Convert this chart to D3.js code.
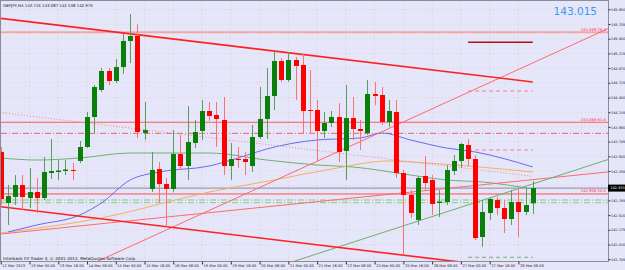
<!DOCTYPE html>
<meta charset="utf-8">
<style>
    body { margin: 0; background: #e6e6fa; }
    svg { display: block; font-family: "DejaVu Sans", sans-serif; }
</style>
<body>
<svg width="625" height="270"></svg>
<script src="https://d3js.org/d3.v7.min.js"></script>
<script>
// H4 bars, GBPJPY, index 0 = 12 Mar 2013 08:00
var opens  = [143.572,142.722,142.822,143.022,142.805,142.905,142.805,143.222,143.238,143.255,143.272,143.422,143.655,144.155,144.605,144.922,144.755,144.988,145.422,145.505,143.888,142.955,143.288,143.038,142.955,143.538,143.338,143.722,143.922,144.255,144.188,144.105,143.338,143.455,143.455,143.338,143.822,144.122,144.505,145.088,144.772,145.105,145.022,144.272,144.272,143.922,144.055,144.155,143.588,144.138,143.955,143.888,144.538,144.522,144.072,144.238,143.222,142.855,142.438,143.172,143.105,142.722,142.738,143.255,143.422,143.688,143.455,142.155,142.555,142.772,142.638,142.455,142.738,142.572,142.716];
var highs  = [143.655,143.022,143.188,143.188,143.305,143.138,143.488,143.788,143.438,143.438,143.388,143.755,144.238,144.688,144.972,144.972,145.122,145.538,145.872,145.705,144.405,143.572,143.405,143.138,143.938,143.855,144.338,144.105,144.438,144.405,144.405,144.488,143.722,143.655,143.572,144.022,144.655,144.972,145.238,145.138,145.238,145.155,145.205,144.938,144.438,144.238,144.255,144.388,144.688,144.488,144.105,144.772,144.738,144.655,144.438,144.438,143.272,142.938,143.172,143.505,143.188,142.938,143.355,143.522,143.722,143.788,143.522,142.772,142.805,142.822,142.772,142.938,142.972,142.972,143.087];
var lows   = [142.688,142.355,142.688,142.605,142.638,142.555,142.772,143.122,143.105,143.188,143.105,143.388,143.638,143.888,144.572,144.688,144.722,144.872,145.055,143.805,143.772,142.905,142.722,142.322,142.905,143.272,143.105,143.638,143.772,144.088,143.655,143.188,143.105,143.305,143.188,143.238,143.788,143.788,144.272,144.738,144.738,144.438,143.888,143.888,143.422,143.805,143.988,143.405,143.105,143.772,143.605,143.855,144.355,144.022,143.988,143.138,141.855,142.472,142.355,142.938,142.522,142.488,142.688,143.188,143.305,143.338,142.105,141.988,142.438,142.522,142.222,142.355,142.155,142.522,142.538];
var closes = [142.788,142.838,143.022,142.822,142.905,142.805,143.238,143.255,143.263,143.280,143.258,143.655,144.155,144.655,144.922,144.755,144.988,145.422,145.505,143.905,143.938,143.272,143.038,142.955,143.538,143.338,143.738,143.905,144.255,144.172,144.122,143.338,143.455,143.438,143.405,143.822,144.122,144.505,145.088,144.772,145.105,145.005,144.255,144.255,143.922,144.055,144.155,143.572,144.138,143.955,143.922,144.538,144.505,144.072,144.255,143.222,142.855,142.555,143.138,143.055,142.705,142.747,143.272,143.422,143.705,143.455,142.138,142.572,142.788,142.638,142.455,142.738,142.572,142.688,142.970];

var timeLabels = ["12 Mar 2013","13 Mar 00:00","13 Mar 16:00","14 Mar 08:00","15 Mar 00:00","15 Mar 16:00","18 Mar 08:00","19 Mar 00:00","19 Mar 16:00","20 Mar 08:00","21 Mar 00:00","21 Mar 16:00","22 Mar 08:00","25 Mar 00:00","25 Mar 16:00","26 Mar 08:00","27 Mar 00:00","27 Mar 16:00","28 Mar 08:00"];
var labelBars = [0,4,8,12,16,20,24,28,32,36,40,44,48,52,56,60,64,68,72];
var priceTicks = [145.950,145.705,145.460,145.215,144.970,144.725,144.480,144.235,143.990,143.745,143.500,143.255,143.010,142.765,142.520,142.275,142.030,141.785];

// moving averages: [bar, price]
var maBlue   = [[1,142.238],[5,142.355],[11,142.522],[14,142.722],[18,143.105],[22,143.238],[29,143.338],[33,143.472],[37,143.622],[44,143.772],[50,143.805],[53,143.888],[57,143.772],[62,143.638],[66,143.572],[74,143.322]];
var maOrange = [[0,142.222],[14,142.472],[29,142.905],[38,143.105],[46,143.288],[54,143.422],[57,143.405],[65,143.338],[74,143.238]];
var maGreen  = [[0,143.472],[5,143.438],[11,143.472],[18,143.555],[29,143.555],[37,143.438],[44,143.355],[49,143.322],[57,143.188],[62,143.105],[67,143.072],[74,142.955]];

// trend lines: [bar1, price1, bar2, price2]
var channelTop    = [-0.1, 145.800, 74.0, 144.738];
var channelBottom = [-0.1, 142.660, 74.0, 141.593];
var channelMid    = [-0.1, 144.230, 74.0, 143.166];
var redRay        = [13.35, 141.743, 84.5, 145.630];
var redRay2       = [0, 142.205, 84.5, 143.240];
var greenRay      = [40.2, 141.727, 84.5, 143.447];

// horizontal levels
var fibLevels = [145.567, 144.067, 142.872];
var fibNames  = ["145.569 76.4", "144.088 61.8", "142.956 50.0"];
var dashDotRed = 143.883;
var greenDashDot = [142.772, 142.727];
var bid = 142.970;
var shortLevels = [145.400, 144.588, 143.605, 141.817];
var shortFrom = 65, shortTo = 74;

var svg = d3.select("svg"),
    width = +svg.attr("width"),
    height = +svg.attr("height");

var plotL = 1, plotR = 608, plotT = 1, plotB = 261;

var x = d3.scaleLinear().domain([0, 74]).range([0.74, 532.8]);
var y = d3.scaleLinear().domain([141.785, 145.950]).range([259.2, 9.3]);

svg.append("rect").attr("width", width).attr("height", height).attr("fill", "#e6e6fa");

svg.append("defs").append("clipPath").attr("id", "plot")
    .append("rect").attr("x", plotL).attr("y", plotT)
    .attr("width", plotR - plotL).attr("height", plotB - plotT);

var grid = svg.append("g").attr("clip-path", "url(#plot)");
grid.selectAll(".vg").data(labelBars).enter().append("line")
    .attr("x1", function(d) { return x(d); }).attr("x2", function(d) { return x(d); })
    .attr("y1", plotT).attr("y2", plotB)
    .attr("stroke", "#e8b8a8").attr("stroke-dasharray", "1,3").attr("opacity", 0.6);
grid.selectAll(".hg").data(priceTicks).enter().append("line")
    .attr("x1", plotL).attr("x2", plotR)
    .attr("y1", function(d) { return y(d); }).attr("y2", function(d) { return y(d); })
    .attr("stroke", "#e8b8a8").attr("stroke-dasharray", "1,3").attr("opacity", 0.6);

var plot = svg.append("g").attr("clip-path", "url(#plot)");

function hline(v, color, w, dash, x1, x2) {
    plot.append("line")
        .attr("x1", x1 === undefined ? plotL : x1).attr("x2", x2 === undefined ? plotR : x2)
        .attr("y1", y(v)).attr("y2", y(v))
        .attr("stroke", color).attr("stroke-width", w)
        .attr("stroke-dasharray", dash || null);
}
function tline(t, color, w, dash) {
    plot.append("line")
        .attr("x1", x(t[0])).attr("y1", y(t[1]))
        .attr("x2", x(t[2])).attr("y2", y(t[3]))
        .attr("stroke", color).attr("stroke-width", w)
        .attr("stroke-dasharray", dash || null);
}

// horizontal levels
hline(fibLevels[0], "#f7a8b8", 2);
hline(fibLevels[0], "#f5a040", 1, "1,2");
hline(fibLevels[1], "#ff5a5a", 1);
hline(dashDotRed, "#f06060", 1, "6,2,1,2");
hline(greenDashDot[0], "#80d080", 1, "6,2,1,2");
hline(greenDashDot[1], "#80d080", 1, "6,2,1,2");
hline(fibLevels[2], "#ff5050", 1);
hline(bid, "#8a8a9a", 1);

// short day levels
hline(shortLevels[0], "#b01010", 1.5, null, x(shortFrom), x(shortTo));
hline(shortLevels[1], "#f08080", 1, "4,3", x(shortFrom), x(shortTo));
hline(shortLevels[2], "#f08080", 1, "4,3", x(shortFrom), x(shortTo));
hline(shortLevels[3], "#70b070", 1, "4,3", x(shortFrom), x(shortTo));

// moving averages
var line = d3.line()
    .x(function(d) { return x(d[0]); })
    .y(function(d) { return y(d[1]); })
    .curve(d3.curveMonotoneX);
plot.append("path").datum(maGreen).attr("d", line).attr("fill", "none").attr("stroke", "#70b070").attr("stroke-width", 1);
plot.append("path").datum(maOrange).attr("d", line).attr("fill", "none").attr("stroke", "#f4b060").attr("stroke-width", 1);
plot.append("path").datum(maBlue).attr("d", line).attr("fill", "none").attr("stroke", "#6a6af0").attr("stroke-width", 1);

// trend lines
tline(channelMid, "#f08888", 1, "1,2");
tline(redRay, "#ff6a6a", 1);
tline(redRay2, "#ff6a6a", 1);
tline(greenRay, "#6ab06a", 1);
tline(channelTop, "#ff2020", 1.6);
tline(channelBottom, "#ff2020", 1.6);

// candles
var bars = d3.range(opens.length);
plot.selectAll(".wick").data(bars).enter().append("line")
    .attr("x1", function(i) { return Math.round(x(i)) + 0.5; })
    .attr("x2", function(i) { return Math.round(x(i)) + 0.5; })
    .attr("y1", function(i) { return y(highs[i]); })
    .attr("y2", function(i) { return y(lows[i]); })
    .attr("stroke", function(i) { return closes[i] >= opens[i] ? "#58a058" : "#ff7070"; })
    .attr("stroke-width", 1);
plot.selectAll(".body").data(bars).enter().append("rect")
    .attr("x", function(i) { return Math.round(x(i)) - 2; })
    .attr("width", 5)
    .attr("y", function(i) { return y(Math.max(opens[i], closes[i])); })
    .attr("height", function(i) { return Math.max(1, Math.abs(y(opens[i]) - y(closes[i]))); })
    .attr("fill", function(i) { return closes[i] >= opens[i] ? "#0a800a" : "#ff0000"; });

// frame
svg.append("rect").attr("x", plotL - 0.5).attr("y", plotT - 0.5)
    .attr("width", plotR - plotL + 1).attr("height", plotB - plotT + 1)
    .attr("fill", "none").attr("stroke", "#8c8c9c").attr("stroke-width", 1);

// price axis (the label hidden under the bid box is left out)
var yAxis = svg.append("g").attr("transform", "translate(" + (plotR + 0.5) + ",0)")
    .call(d3.axisRight(y).tickValues(priceTicks).tickSize(2)
        .tickFormat(function(d) { return Math.abs(d - bid) < 0.08 ? "" : d3.format(".3f")(d); }));
yAxis.select(".domain").remove();
yAxis.selectAll("line").attr("stroke", "#333");
yAxis.selectAll("text").attr("x", 2.5).attr("font-size", 3.45).attr("fill", "#222").attr("font-family", "DejaVu Sans");

// time axis
var xAxis = svg.append("g").attr("transform", "translate(0," + (plotB + 0.5) + ")")
    .call(d3.axisBottom(x).tickValues(labelBars).tickSize(3).tickFormat(function(d, i) { return timeLabels[i]; }));
xAxis.select(".domain").remove();
xAxis.selectAll("line").attr("stroke", "#333");
xAxis.selectAll("text").attr("text-anchor", "start").attr("x", 1).attr("y", 2.5)
    .attr("font-size", 3.6).attr("fill", "#222").attr("font-family", "DejaVu Sans");

// fib labels
svg.selectAll(".fibl").data(fibLevels).enter().append("text")
    .attr("x", 606).attr("y", function(d) { return y(d) - 1.5; })
    .attr("text-anchor", "end").attr("font-size", 3.8).attr("fill", "#ff3030")
    .text(function(d, i) { return fibNames[i]; });

// bid box
svg.append("rect").attr("x", plotR).attr("y", y(bid) - 3.5).attr("width", 17).attr("height", 7).attr("fill", "#000");
svg.append("text").attr("x", plotR + 2.5).attr("y", y(bid) + 1.3).attr("font-size", 3.45).attr("fill", "#fff")
    .text(d3.format(".3f")(bid));

// header and footer
svg.append("text").attr("x", 3).attr("y", 6.5).attr("font-size", 3.9).attr("fill", "#222")
    .text("GBPJPY,H4  142.716 143.087 142.538 142.970");
svg.append("text").attr("x", 3).attr("y", 259.5).attr("font-size", 4.1).attr("fill", "#222")
    .text("Interbank FX Trader 4, \u00a9 2001-2012, MetaQuotes Software Corp.");
svg.append("text").attr("x", 597).attr("y", 15).attr("text-anchor", "end")
    .attr("font-size", 10.5).attr("fill", "#3a9af0")
    .text("143.015");
</script>
</body>
